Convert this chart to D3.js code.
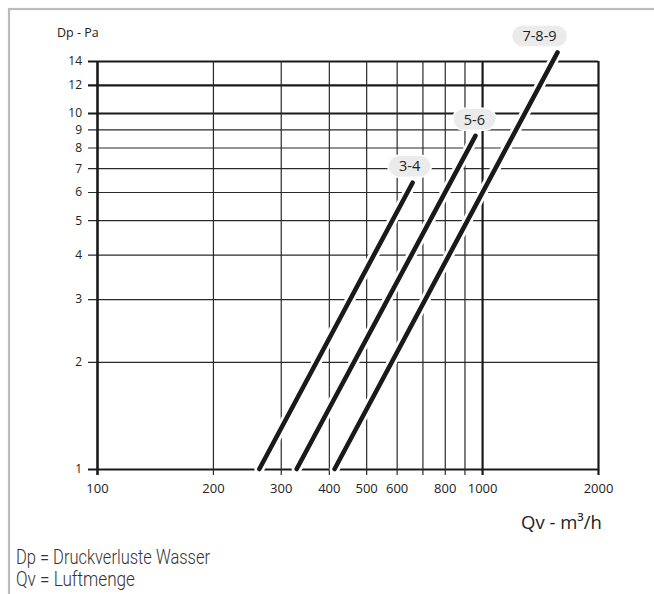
<!DOCTYPE html>
<html><head><meta charset="utf-8">
<script src="https://cdn.jsdelivr.net/npm/d3@7"></script>
<style>
html,body{margin:0;padding:0;background:#fff;}
svg{display:block;}
</style></head>
<body>
<svg id="chart" width="654" height="594"></svg>
<script>
// ---- data ----
const qDomain = [100, 2000];
const dpDomain = [1, 14];
const xGridValues = [100, 200, 300, 400, 500, 600, 700, 800, 900, 1000, 2000];
const xTickLabels = [100, 200, 300, 400, 500, 600, 800, 1000, 2000];
const xThick = [100, 1000, 2000];
const yTickValues = [1, 2, 3, 4, 5, 6, 7, 8, 9, 10, 12, 14];
const yThick = [1, 10, 12, 14];
const seriesNames = ["3-4", "5-6", "7-8-9"];
const seriesQ = [[264, 660], [330, 961], [414, 1570]];
const seriesDp = [[1, 6.37], [1, 8.63], [1, 14.8]];
const labelDx = [-3, -1, -18];
const yTitle = "Dp - Pa";
const xTitle = "Qv - m³/h";
const notes = ["Dp = Druckverluste Wasser", "Qv = Luftmenge"];
const noteWidths = [194, 119];

// ---- layout ----
const svg = d3.select("#chart");
const L = 97, R = 598, T = 61, B = 469;
const x = d3.scaleLog().domain(qDomain).range([L, R]);
const y = d3.scaleLog().domain(dpDomain).range([B, T]);

// frame
svg.append("rect").attr("x", 9).attr("y", 9).attr("width", 660).attr("height", 600)
  .attr("fill", "none").attr("stroke", "#bcbcbc").attr("stroke-width", 2.2);

const font = "'Open Sans', 'DejaVu Sans', sans-serif";

// y axis / horizontal grid
const yAxis = d3.axisLeft(y).tickValues(yTickValues).tickFormat(d3.format("d"))
  .tickSizeInner(-(R - 88)).tickSizeOuter(0).tickPadding(6);
const gy = svg.append("g").attr("transform", `translate(88,0)`).call(yAxis);
gy.select(".domain").remove();
gy.selectAll(".tick line")
  .attr("stroke", d => yThick.includes(d) ? "#1a1a1a" : "#2a2a2a")
  .attr("stroke-width", d => yThick.includes(d) ? 2.2 : 1.2);
gy.selectAll(".tick text").attr("font-family", font).attr("font-size", 12).attr("fill", "#222");

// x axis / vertical grid
const xAxis = d3.axisBottom(x).tickValues(xGridValues)
  .tickFormat(d => xTickLabels.includes(d) ? String(d) : "")
  .tickSizeInner(-(475 - T)).tickSizeOuter(0).tickPadding(9);
const gx = svg.append("g").attr("transform", `translate(0,475)`).call(xAxis);
gx.select(".domain").remove();
gx.selectAll(".tick line")
  .attr("stroke", d => xThick.includes(d) ? "#1a1a1a" : "#2a2a2a")
  .attr("stroke-width", d => d === 100 ? 2.6 : (xThick.includes(d) ? 2.2 : 1.2));
gx.selectAll(".tick text").attr("font-family", font).attr("font-size", 13).attr("fill", "#222");

// curves
const line = d3.line().x(d => x(d[0])).y(d => y(d[1]));
const series = seriesNames.map((n, i) => ({
  name: n, pts: seriesQ[i].map((q, j) => [q, seriesDp[i][j]]), dx: labelDx[i]
}));
const gc = svg.append("g");
series.forEach(s => {
  gc.append("path").attr("d", line(s.pts)).attr("fill", "none")
    .attr("stroke", "#fff").attr("stroke-width", 10).attr("stroke-linecap", "round");
});
series.forEach(s => {
  gc.append("path").attr("d", line(s.pts)).attr("fill", "none")
    .attr("stroke", "#1a1a1a").attr("stroke-width", 4.6).attr("stroke-linecap", "round");
});

// labels
series.forEach(s => {
  const top = s.pts[s.pts.length - 1];
  const cx = x(top[0]) + s.dx, cy = y(top[1]) - 16.5;
  const g = svg.append("g").attr("transform", `translate(${cx},${cy})`);
  const t = g.append("text").text(s.name).attr("font-family", font).attr("font-size", 14.5)
    .attr("fill", "#222").attr("text-anchor", "middle").attr("dy", "0.36em");
  const w = t.node().getComputedTextLength() + 22;
  g.insert("rect", "text").attr("x", -w / 2).attr("y", -11).attr("width", w).attr("height", 22)
    .attr("rx", 11).attr("fill", "#ebebeb").attr("stroke", "#fff").attr("stroke-width", 1.5);
});

// titles
svg.append("text").attr("x", 57).attr("y", 37).text(yTitle)
  .attr("font-family", font).attr("font-size", 12.5).attr("fill", "#222");
svg.append("text").attr("x", 521).attr("y", 529).text(xTitle)
  .attr("font-family", font).attr("font-size", 18.5).attr("fill", "#222");

// notes
const nf = "Roboto, 'Liberation Sans', sans-serif";
notes.forEach((n, i) => {
  svg.append("text").attr("x", 16).attr("y", 564 + i * 22).text(n)
    .attr("font-family", nf).attr("font-size", 20).attr("font-weight", 300).attr("fill", "#333")
    .attr("textLength", noteWidths[i]).attr("lengthAdjust", "spacingAndGlyphs");
});
</script>
</body></html>
